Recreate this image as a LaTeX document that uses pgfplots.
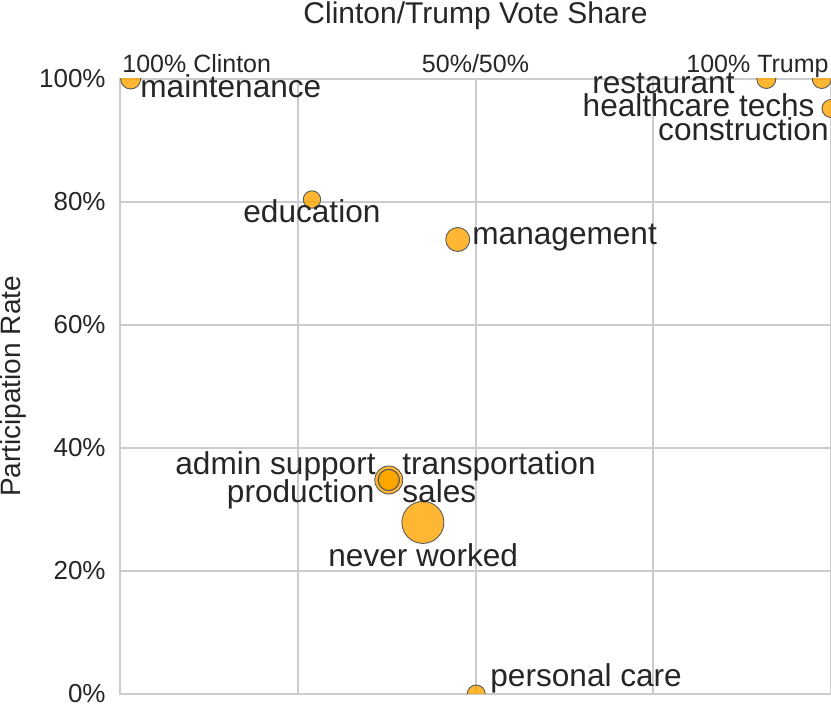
\documentclass[border=0pt]{standalone}
\usepackage{fontspec}
\setmainfont{Liberation Sans}
\usepackage{pgfplots}
\usepackage{pgfplotstable}
\pgfplotsset{compat=1.18}
\usetikzlibrary{calc}

\definecolor{txt}{HTML}{262626}
\definecolor{grd}{HTML}{CCCCCC}
\definecolor{dot}{HTML}{FFA500}

% vote share (0 = Clinton, 1 = Trump), participation rate, bubble radius (px)
\pgfplotstableread{
x      y      r
0.015  1.000  10
0.270  0.804  8.7
0.475  0.739  12
0.909  1.000  9.5
0.987  1.000  9.5
1.000  0.952  9
0.378  0.348  14
0.378  0.348  10.5
0.378  0.348  10.5
0.378  0.348  10.5
0.426  0.279  21
0.501  0.000  9
}\pts

\begin{document}
\begin{tikzpicture}[font=\color{txt}]
\begin{axis}[
  name=ax,
  scale only axis, width=355.5pt, height=307.5pt,
  xmin=0, xmax=1, ymin=0, ymax=1,
  xtick={0,0.25,0.5,0.75,1}, xticklabels={},
  ytick={0,0.2,0.4,0.6,0.8,1},
  yticklabels={0\%,20\%,40\%,60\%,80\%,100\%},
  yticklabel style={font=\fontsize{13}{15}\selectfont\color{txt}, anchor=east, inner sep=0pt, xshift=-7pt},
  major tick length=0pt,
  grid=major, major grid style={grd, line width=1pt},
  axis line style={grd, line width=1pt},
  clip mode=individual, clip marker paths=true,
]
\addplot[only marks, mark=*, scatter,
  scatter/use mapped color={draw=black!65, fill=dot},
  mark options={fill opacity=0.8, line width=0.45pt},
  visualization depends on={\thisrow{r} \as \rad},
  scatter/@pre marker code/.append style={/tikz/mark size=\rad*0.5pt}]
  table[x=x, y=y] {\pts};

\begin{scope}[every node/.style={inner sep=0pt, font=\fontsize{15.8}{18}\selectfont\color{txt}}]
\node[anchor=base west] at (axis cs:0.0281,0.9707) {maintenance};
\node[anchor=base west] at (axis cs:0.1730,0.7659) {education};
\node[anchor=base west] at (axis cs:0.4951,0.7301) {management};
\node[anchor=base east] at (axis cs:0.8650,0.9772) {restaurant};
\node[anchor=base east] at (axis cs:0.9775,0.9398) {healthcare techs};
\node[anchor=base east] at (axis cs:0.9972,0.9008) {construction};
\node[anchor=base east] at (axis cs:0.3601,0.3561) {admin support};
\node[anchor=base east] at (axis cs:0.3586,0.3106) {production};
\node[anchor=base west] at (axis cs:0.3966,0.3561) {transportation};
\node[anchor=base west] at (axis cs:0.3966,0.3106) {sales};
\node[anchor=base west] at (axis cs:0.2925,0.2065) {never worked};
\node[anchor=base west] at (axis cs:0.5204,0.0114) {personal care};
\end{scope}
\end{axis}

\begin{scope}[every node/.style={inner sep=0pt}]
\node[anchor=base west, font=\fontsize{12.5}{14}\selectfont\color{txt}] at ($(ax.north west)+(1pt,3pt)$) {100\% Clinton};
\node[anchor=base, font=\fontsize{12.5}{14}\selectfont\color{txt}] at ($(ax.north)+(0pt,3pt)$) {50\%/50\%};
\node[anchor=base east, font=\fontsize{12.5}{14}\selectfont\color{txt}] at ($(ax.north east)+(-1pt,3pt)$) {100\% Trump};
\node[anchor=base, font=\fontsize{15}{17}\selectfont\color{txt}] at ($(ax.north)+(0pt,27.5pt)$) {Clinton/Trump Vote Share};
\node[anchor=base, rotate=90, font=\fontsize{14}{16}\selectfont\color{txt}] at ($(ax.west)+(-49.5pt,0pt)$) {Participation Rate};
\end{scope}

\pgfresetboundingbox
\path ($(ax.south west)+(-60pt,-6.5pt)$) rectangle ($(ax.north east)+(0pt,39.5pt)$);
\end{tikzpicture}
\end{document}
